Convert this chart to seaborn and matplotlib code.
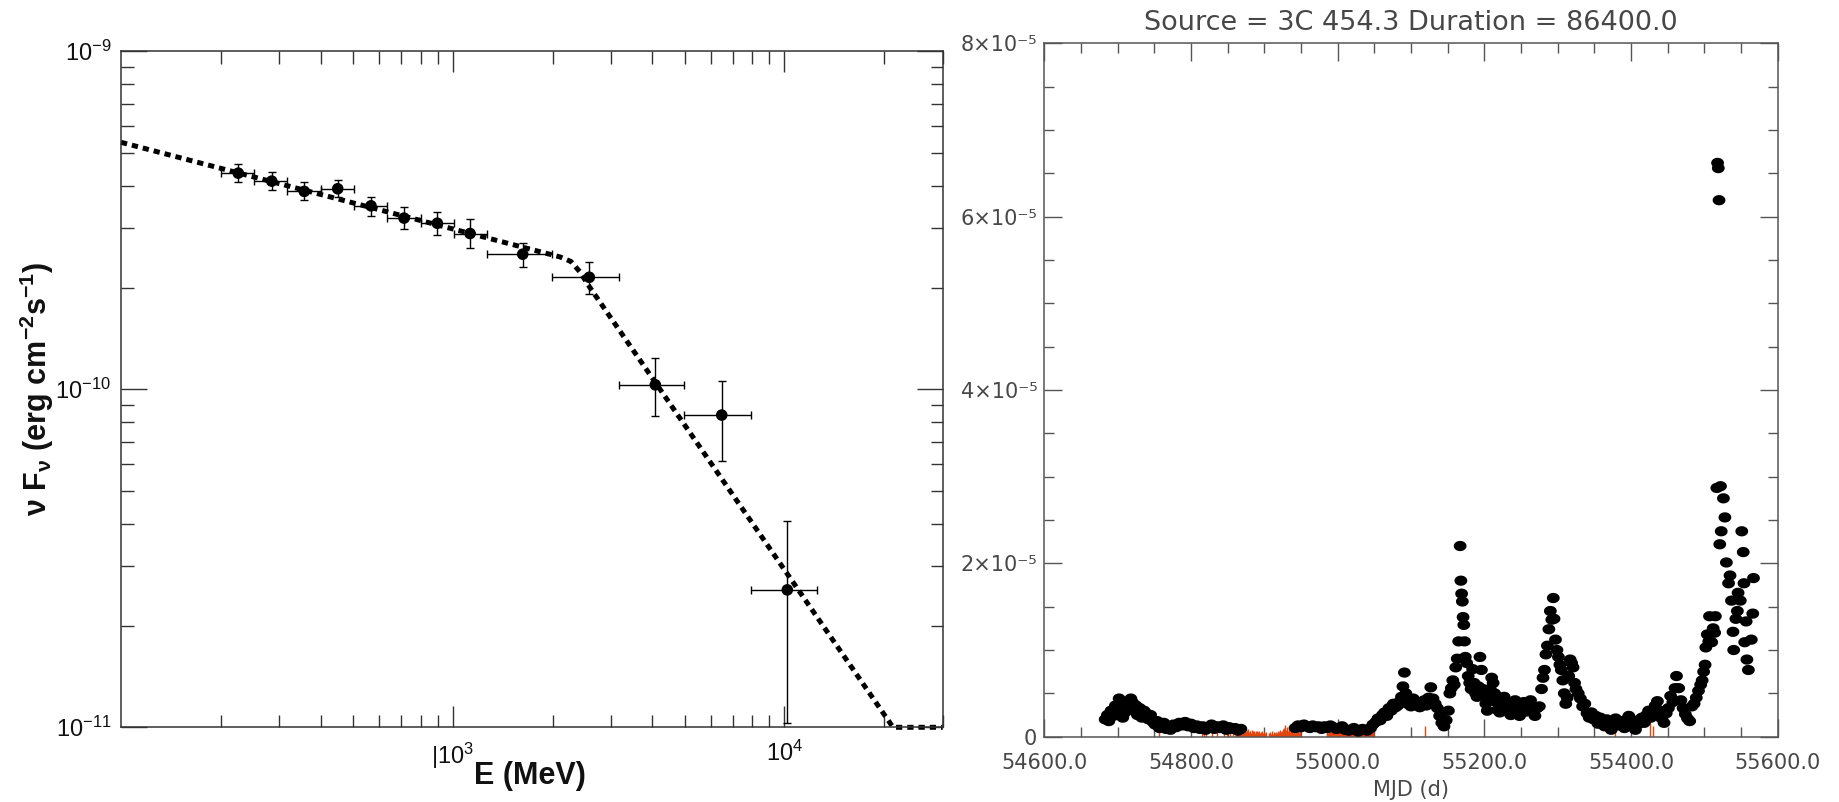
import numpy as np
import matplotlib
matplotlib.use("Agg")
import matplotlib.pyplot as plt
import seaborn as sns
from matplotlib.path import Path

# ---------------- SED (left panel) ----------------
sed_energy = [225.7, 284.7, 356.9, 450.1, 567.1, 713.3, 898.5, 1127.7,
              1625.5, 2581.0, 4081.0, 6471.0, 10201.0]
sed_e_low = [200, 252, 317, 400, 504, 635, 801, 1009, 1266, 1990, 3170, 4990, 7930]
sed_e_high = [252, 317, 400, 504, 635, 801, 1009, 1266, 1990, 3170, 4990, 7930, 12520]
sed_flux = [4.36e-10, 4.13e-10, 3.85e-10, 3.92e-10, 3.49e-10, 3.21e-10, 3.10e-10,
            2.89e-10, 2.51e-10, 2.145e-10, 1.031e-10, 8.39e-11, 2.55e-11]
sed_flux_low = [4.10e-10, 3.89e-10, 3.62e-10, 3.70e-10, 3.26e-10, 2.99e-10, 2.86e-10,
                2.62e-10, 2.30e-10, 1.91e-10, 8.32e-11, 6.14e-11, 1.03e-11]
sed_flux_high = [4.63e-10, 4.40e-10, 4.10e-10, 4.16e-10, 3.71e-10, 3.46e-10, 3.35e-10,
                 3.18e-10, 2.71e-10, 2.38e-10, 1.235e-10, 1.06e-10, 4.08e-11]

# broken power-law model curve
model_energy = [100, 2106, 2273, 2420, 2594, 21250, 30000]
model_flux = [5.38e-10, 2.464e-10, 2.388e-10, 2.223e-10, 1.998e-10, 1.0e-11, 1.0e-11]

sed_yticks = [1e-11, 1e-10, 1e-9]
sed_yticklabels = ["$10^{-11}$", "$10^{-10}$", "$10^{-9}$"]
sed_xticks = [1e3, 1e4]
sed_xticklabels = ["|$10^{3}$", "$10^{4}$"]

# ---------------- light curve (right panel) ----------------
lc_mjd = [
    54683, 54686, 54688, 54691, 54694, 54697, 54700, 54702, 54705, 54707,
    54709, 54712, 54715, 54718, 54720, 54722, 54725, 54727, 54730, 54733,
    54736, 54739, 54742, 54745, 54748, 54751, 54754, 54757, 54760, 54763,
    54766, 54769, 54772, 54776, 54780, 54784, 54788, 54792, 54796, 54800,
    54804, 54808, 54812, 54816, 54820, 54824, 54828, 54832, 54836, 54840,
    54844, 54848, 54852, 54856, 54860, 54864, 54868,
    54942, 54946, 54950, 54954, 54958, 54962, 54966, 54970, 54974, 54978,
    54982, 54986, 54990, 54994, 54998, 55002, 55006, 55010, 55015, 55022,
    55028, 55034, 55040, 55045, 55048, 55052, 55055, 55058, 55061, 55064,
    55067, 55070, 55073, 55076, 55079, 55082, 55085, 55087, 55089, 55091,
    55093, 55095, 55097, 55100, 55103, 55106, 55109, 55112, 55115, 55118,
    55121, 55124, 55127, 55130, 55133, 55136, 55139, 55142, 55145, 55148,
    55151, 55153, 55155, 55157, 55159, 55161, 55163, 55165, 55167, 55168,
    55169, 55170, 55171, 55172, 55173, 55174, 55176, 55178, 55180, 55182,
    55184, 55186, 55188, 55190, 55192, 55194, 55196, 55198, 55200, 55202,
    55204, 55206, 55208, 55210, 55212, 55214, 55216, 55218, 55221, 55224,
    55227, 55230, 55233, 55236, 55239, 55242, 55245, 55248, 55251, 55254,
    55257, 55260, 55263, 55266, 55269, 55272, 55275, 55278, 55280, 55282,
    55284, 55286, 55288, 55290, 55292, 55294, 55295, 55297, 55299, 55301,
    55303, 55305, 55307, 55309, 55311, 55313, 55315, 55317, 55319, 55321,
    55323, 55325, 55328, 55331, 55334, 55337, 55340, 55343, 55346, 55349,
    55352, 55355, 55358, 55361, 55364, 55367, 55370, 55373, 55376, 55379,
    55382, 55385, 55388, 55391, 55394, 55397, 55400, 55403, 55406, 55409,
    55412, 55415, 55418, 55421, 55424, 55427, 55430, 55433, 55436, 55439,
    55442, 55445, 55448, 55451, 55454, 55457, 55460, 55462, 55465, 55468,
    55471, 55474, 55477, 55480, 55483, 55486, 55489, 55492, 55495, 55497,
    55499, 55501, 55502, 55504, 55506, 55507, 55510, 55512, 55514, 55515,
    55517, 55518, 55519, 55520, 55521, 55522, 55523, 55526, 55528, 55530,
    55533, 55535, 55537, 55539, 55540, 55543, 55545, 55546, 55549, 55551,
    55553, 55554, 55555, 55557, 55558, 55560, 55564, 55566, 55567,
]
# photon flux in units of 1e-5 ph cm^-2 s^-1
lc_flux = [
    0.20, 0.25, 0.18, 0.30, 0.24, 0.36, 0.28, 0.44, 0.33, 0.22,
    0.27, 0.38, 0.35, 0.44, 0.40, 0.30, 0.36, 0.25, 0.33, 0.22,
    0.30, 0.27, 0.20, 0.25, 0.17, 0.14, 0.18, 0.10, 0.13, 0.16,
    0.09, 0.12, 0.08, 0.14, 0.11, 0.16, 0.13, 0.17, 0.12, 0.15,
    0.10, 0.13, 0.09, 0.12, 0.08, 0.11, 0.14, 0.09, 0.12, 0.10,
    0.13, 0.08, 0.11, 0.09, 0.10, 0.07, 0.09,
    0.10, 0.13, 0.11, 0.14, 0.12, 0.10, 0.13, 0.11, 0.12, 0.09,
    0.12, 0.10, 0.13, 0.11, 0.09, 0.10, 0.12, 0.08, 0.07, 0.10,
    0.06, 0.09, 0.07, 0.10, 0.14, 0.17, 0.21, 0.19, 0.25, 0.28,
    0.24, 0.33, 0.30, 0.38, 0.34, 0.36, 0.41, 0.46, 0.58, 0.74,
    0.50, 0.38, 0.42, 0.35, 0.44, 0.37, 0.40, 0.34, 0.38, 0.42,
    0.36, 0.45, 0.57, 0.44, 0.38, 0.33, 0.24, 0.16, 0.12, 0.19,
    0.30, 0.50, 0.56, 0.65, 0.60, 0.80, 0.90, 1.10, 2.20, 1.80,
    1.65, 1.56, 1.38, 1.29, 1.10, 0.92, 0.85, 0.70, 0.62, 0.55,
    0.78, 0.62, 0.50, 0.46, 0.58, 0.92, 0.77, 0.55, 0.48, 0.38,
    0.30, 0.42, 0.55, 0.68, 0.62, 0.50, 0.40, 0.31, 0.28, 0.36,
    0.46, 0.38, 0.30, 0.25, 0.34, 0.42, 0.31, 0.24, 0.33, 0.40,
    0.29, 0.36, 0.42, 0.30, 0.24, 0.33, 0.35, 0.55, 0.68, 0.77,
    0.95, 1.05, 1.24, 1.45, 1.35, 1.60, 1.36, 1.12, 1.00, 0.92,
    0.83, 0.77, 0.65, 0.50, 0.38, 0.45, 0.70, 0.89, 0.85, 0.80,
    0.62, 0.55, 0.50, 0.44, 0.35, 0.38, 0.27, 0.22, 0.28, 0.20,
    0.24, 0.15, 0.22, 0.18, 0.12, 0.20, 0.12, 0.08, 0.16, 0.21,
    0.13, 0.18, 0.15, 0.10, 0.20, 0.24, 0.17, 0.12, 0.08, 0.14,
    0.20, 0.22, 0.16, 0.25, 0.30, 0.22, 0.28, 0.36, 0.41, 0.30,
    0.21, 0.16, 0.27, 0.33, 0.47, 0.40, 0.56, 0.70, 0.56, 0.42,
    0.33, 0.26, 0.21, 0.18, 0.35, 0.38, 0.45, 0.53, 0.60, 0.65,
    0.75, 0.83, 1.03, 1.18, 1.10, 1.39, 1.09, 1.25, 1.20, 1.39,
    2.87, 6.62, 6.56, 6.19, 2.22, 2.89, 2.37, 2.75, 2.53, 2.01,
    1.77, 1.86, 1.57, 1.21, 1.00, 1.36, 1.45, 1.66, 1.57, 2.37,
    2.13, 1.77, 1.09, 1.33, 0.89, 0.77, 1.12, 1.42, 1.83,
]

# low-significance days, drawn as red bars from zero (same 1e-5 units)
red_mjd = [
    54756, 54815, 54818, 54821, 54828, 54835, 54845, 54849, 54853, 54857,
    54861, 54862, 54863, 54864, 54865, 54866, 54867, 54868, 54869, 54870,
    54871, 54872, 54873, 54874, 54875, 54876, 54877, 54878, 54879, 54880,
    54881, 54882, 54883, 54884, 54885, 54886, 54887, 54888, 54889, 54890,
    54891, 54892, 54893, 54894, 54895, 54896, 54897, 54898, 54899, 54900,
    54901, 54902,
    54906, 54907, 54908, 54909, 54910, 54911, 54912, 54913, 54914, 54915,
    54916, 54917, 54918, 54919, 54920, 54921, 54922, 54923, 54924, 54925,
    54926, 54927, 54928, 54929, 54930, 54931, 54932, 54933, 54934, 54935,
    54936, 54937, 54938, 54939, 54940, 54941, 54942, 54943, 54944, 54945,
    54946, 54947, 54948,
    54985, 54986, 54987, 54988, 54989, 54990, 54991, 54992, 54993, 54994,
    54995, 54996, 54997, 54998, 54999, 55000, 55001, 55002, 55003, 55004,
    55005, 55006, 55007, 55008, 55009, 55010, 55011, 55012, 55013, 55014,
    55015, 55016, 55017, 55018, 55019, 55020, 55021, 55022, 55023, 55024,
    55025, 55026, 55027, 55028, 55029, 55030, 55031, 55032, 55033, 55034,
    55035, 55036, 55037, 55038, 55039, 55040, 55041, 55042, 55043, 55044,
    55045, 55046, 55047, 55048,
    55119, 55378, 55426, 55430,
]
red_top = [
    0.06, 0.08, 0.10, 0.05, 0.12, 0.06, 0.09, 0.05, 0.10, 0.07,
    0.06, 0.09, 0.05, 0.08, 0.11, 0.06, 0.07, 0.10, 0.05, 0.08,
    0.12, 0.06, 0.09, 0.07, 0.05, 0.08, 0.06, 0.09, 0.05, 0.07,
    0.06, 0.04, 0.08, 0.05, 0.06, 0.07, 0.04, 0.06, 0.05, 0.07,
    0.04, 0.05, 0.06, 0.04, 0.05, 0.03, 0.06, 0.04, 0.05, 0.03,
    0.04, 0.05,
    0.03, 0.04, 0.05, 0.03, 0.04, 0.06, 0.03, 0.05, 0.04, 0.03,
    0.05, 0.04, 0.06, 0.04, 0.05, 0.06, 0.08, 0.05, 0.07, 0.09,
    0.06, 0.10, 0.14, 0.08, 0.06, 0.11, 0.07, 0.09, 0.12, 0.05,
    0.08, 0.10, 0.06, 0.04, 0.07, 0.05, 0.04, 0.06, 0.05, 0.04,
    0.06, 0.05, 0.07,
    0.05, 0.07, 0.04, 0.08, 0.06, 0.09, 0.05, 0.10, 0.07, 0.04,
    0.08, 0.06, 0.11, 0.05, 0.09, 0.12, 0.07, 0.05, 0.10, 0.13,
    0.08, 0.06, 0.11, 0.09, 0.14, 0.07, 0.10, 0.12, 0.08, 0.15,
    0.09, 0.06, 0.12, 0.10, 0.13, 0.08, 0.11, 0.14, 0.07, 0.10,
    0.12, 0.09, 0.15, 0.08, 0.11, 0.13, 0.06, 0.10, 0.14, 0.09,
    0.12, 0.07, 0.11, 0.13, 0.08, 0.10, 0.12, 0.06, 0.09, 0.11,
    0.07, 0.10, 0.08, 0.06,
    0.12, 0.19, 0.24, 0.12,
]

lc_xticks = [54600, 54800, 55000, 55200, 55400, 55600]
lc_xticklabels = ["54600.0", "54800.0", "55000.0", "55200.0", "55400.0", "55600.0"]
lc_yticks = [0, 2e-5, 4e-5, 6e-5, 8e-5]
lc_yticklabels = ["0", "2×10⁻⁵", "4×10⁻⁵", "6×10⁻⁵", "8×10⁻⁵"]

# ---------------- styling ----------------
sns.set_theme(style="ticks")
plt.rcParams["font.family"] = ["Liberation Sans", "DejaVu Sans"]
plt.rcParams["mathtext.default"] = "regular"

W, H = 1839, 802
fig = plt.figure(figsize=(W / 100, H / 100), dpi=100)
fig.patch.set_facecolor("white")


def rect(x0, y0, x1, y1):
    return [x0 / W, 1 - y1 / H, (x1 - x0) / W, (y1 - y0) / H]


# ===== left: SED =====
ax1 = fig.add_axes(rect(121, 51.3, 942.7, 727.3))
ax1.set_xscale("log")
ax1.set_yscale("log")

sns.lineplot(x=model_energy, y=model_flux, ax=ax1, color="black", lw=3.6,
             linestyle=(0, (1.25, 1.0)), dash_capstyle="butt", clip_on=False,
             zorder=2)

e = np.array(sed_energy)
f = np.array(sed_flux)
xerr = [e - np.array(sed_e_low), np.array(sed_e_high) - e]
yerr = [f - np.array(sed_flux_low), np.array(sed_flux_high) - f]
ax1.errorbar(e, f, xerr=xerr, yerr=yerr, fmt="none", ecolor="black",
             elinewidth=1.0, capsize=3.0, capthick=1.0, zorder=3)
sns.scatterplot(x=sed_energy, y=sed_flux, ax=ax1, color="black", s=70,
                edgecolor="none", zorder=4)

ax1.set_xlim(100, 30000)
ax1.set_ylim(1e-11, 1e-9)
ax1.set_xticks(sed_xticks, sed_xticklabels)
ax1.set_yticks(sed_yticks, sed_yticklabels)
ax1.xaxis.set_minor_locator(matplotlib.ticker.LogLocator(base=10, subs=np.arange(2, 10)))
ax1.yaxis.set_minor_locator(matplotlib.ticker.LogLocator(base=10, subs=np.arange(2, 10)))
ax1.xaxis.set_minor_formatter(matplotlib.ticker.NullFormatter())
ax1.yaxis.set_minor_formatter(matplotlib.ticker.NullFormatter())
ax1.tick_params(axis="both", which="both", direction="in", top=True, right=True,
                color="#333333", width=1.0, labelcolor="#111111", labelsize=17)
ax1.tick_params(axis="x", which="major", length=15, pad=10)
ax1.tick_params(axis="y", which="major", length=19, pad=7)
ax1.tick_params(axis="both", which="minor", length=9)
for sp in ax1.spines.values():
    sp.set_color("#333333")
    sp.set_linewidth(1.1)
ax1.set_xlabel("")
ax1.set_ylabel("")

fig.text(530 / W, 1 - 776 / H, "E (MeV)", ha="center", va="center",
         fontsize=22, fontweight="bold", color="#111111")
fig.text(37 / W, 1 - 389 / H, "ν F$_{ν}$ (erg cm$^{-2}$s$^{-1}$)", ha="center",
         va="center", rotation=90, fontsize=22, fontweight="bold", color="#111111")

# ===== right: light curve =====
ax2 = fig.add_axes(rect(1044.3, 43.3, 1777.7, 736.7))
ink = "#474747"
red = "#e3450e"

ax2.vlines(red_mjd, 0, np.array(red_top) * 1e-5, color=red, lw=1.0, zorder=2)

theta = np.linspace(0, 2 * np.pi, 40)
ellipse = Path(np.column_stack([np.cos(theta), 0.8 * np.sin(theta)]), closed=True)
sns.scatterplot(x=lc_mjd, y=np.array(lc_flux) * 1e-5, ax=ax2, marker=ellipse,
                s=85, color="black", edgecolor="none", linewidth=0, zorder=3)

ax2.set_xlim(54600, 55600)
ax2.set_ylim(0, 8e-5)
ax2.set_xticks(lc_xticks, lc_xticklabels, fontfamily="DejaVu Sans", fontsize=15,
               color=ink)
ax2.set_yticks(lc_yticks, lc_yticklabels, fontfamily="DejaVu Sans", fontsize=15,
               color=ink)
ax2.xaxis.set_minor_locator(matplotlib.ticker.MultipleLocator(50))
ax2.yaxis.set_minor_locator(matplotlib.ticker.MultipleLocator(0.5e-5))
ax2.tick_params(axis="both", which="both", direction="in", top=True, right=True,
                color="#555555", width=1.0)
ax2.tick_params(axis="both", which="major", length=13)
ax2.tick_params(axis="both", which="minor", length=7)
ax2.tick_params(axis="x", which="major", pad=12)
ax2.tick_params(axis="y", which="major", pad=5)
for sp in ax2.spines.values():
    sp.set_color("#555555")
    sp.set_linewidth(1.1)
ax2.set_xlabel("")
ax2.set_ylabel("")

fig.text(1411 / W, 1 - 23 / H, "Source = 3C 454.3 Duration = 86400.0",
         ha="center", va="center", fontsize=19.5, family="DejaVu Sans", color=ink)
fig.text(1411 / W, 1 - 790 / H, "MJD (d)", ha="center", va="center",
         fontsize=15, family="DejaVu Sans", color=ink)

fig.savefig("out.png", dpi=100, facecolor="white")
